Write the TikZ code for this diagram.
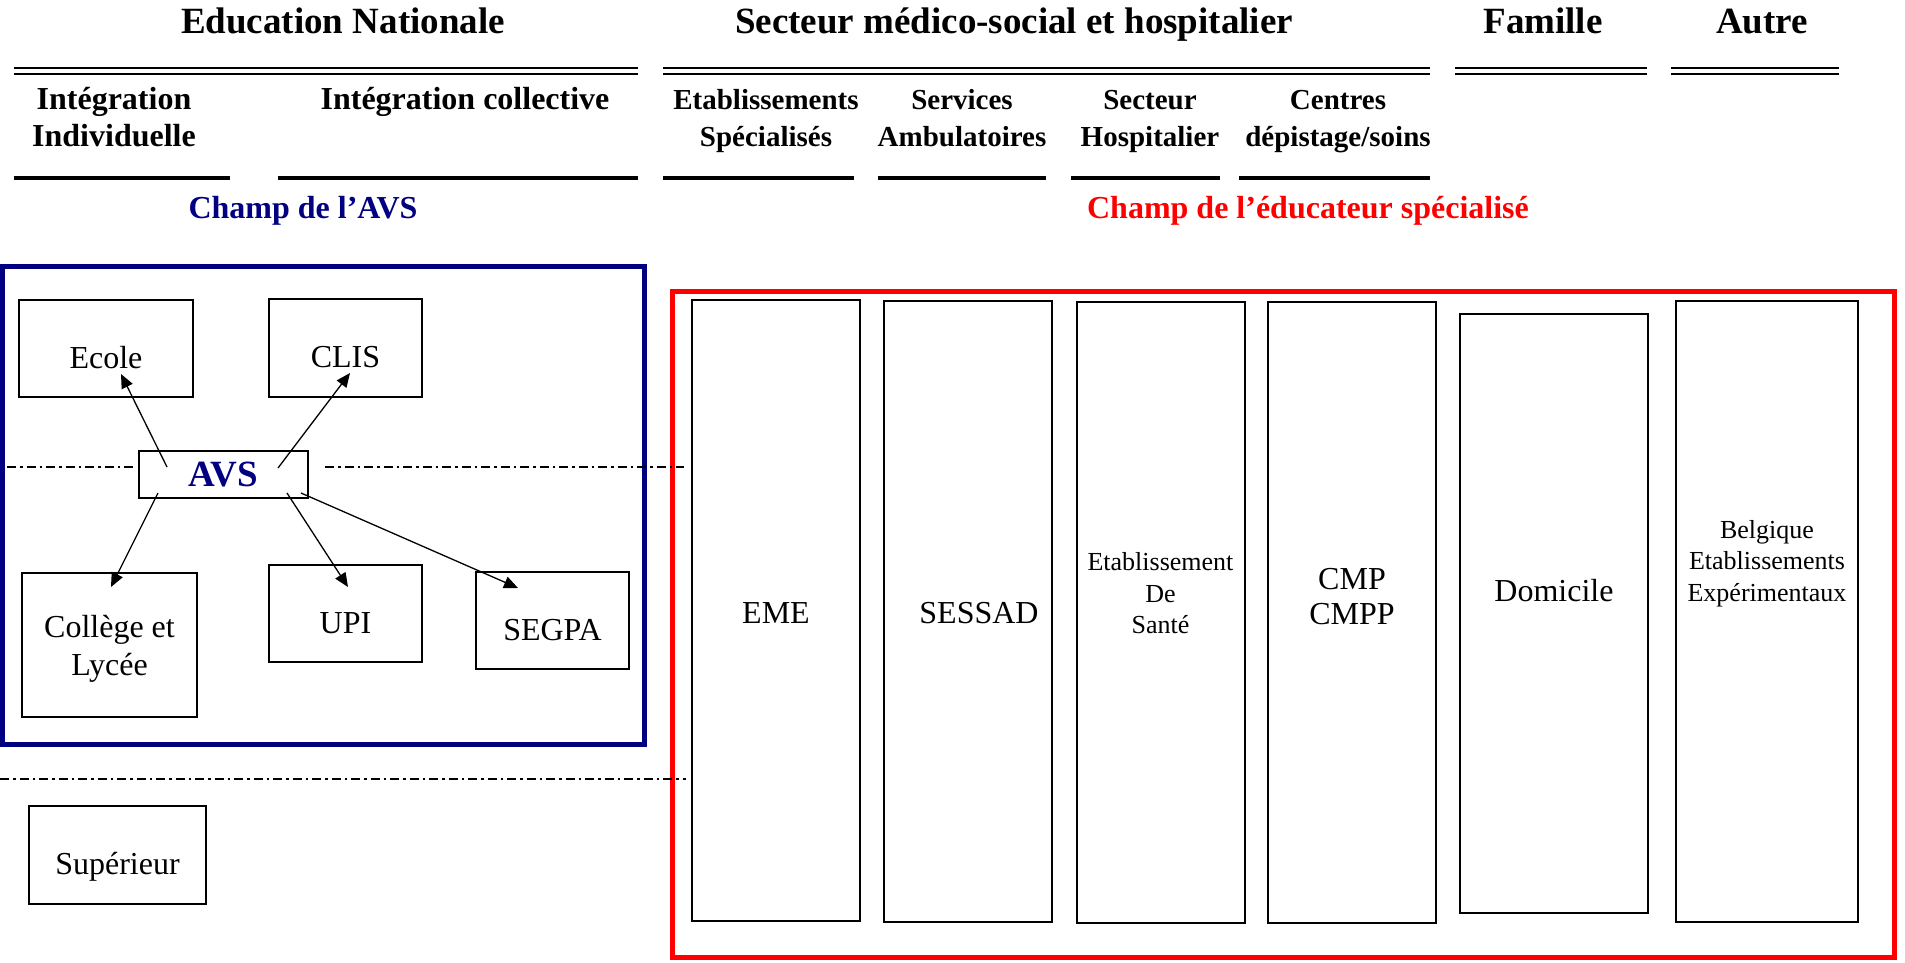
\documentclass[tikz,border=0pt]{standalone}
\usepackage{fontspec}
\setmainfont{Liberation Serif}
\usepackage{xcolor}
\definecolor{colAVS}{RGB}{0,0,128}
\definecolor{colEduc}{RGB}{255,0,0}
\usepackage{tikz}
\usetikzlibrary{arrows.meta}

\begin{document}
\begin{tikzpicture}[
        x=1pt, y=-1pt,
        every node/.style={inner sep=0pt},
        titletext/.style={font=\fontsize{37}{40}\selectfont\bfseries, anchor=base},
        subtext/.style={font=\fontsize{32}{37}\selectfont\bfseries, align=center, anchor=base},
        subtextnarrow/.style={subtext, font=\fontsize{29}{37}\selectfont\bfseries},
        champtext/.style={font=\fontsize{32}{37}\selectfont\bfseries, anchor=base},
        dblline/.style={line width=2.7pt, double, double distance=3.3pt},
        hrule/.style={line width=4pt},
        cellbox/.style={draw, line width=2pt, font=\fontsize{32}{38}\selectfont, align=center},
        onelinebox/.style={text height=39pt, text depth=0pt},
        colbox/.style={draw, line width=2pt, minimum width=168pt, minimum height=621pt},
        coltext/.style={font=\fontsize{32}{35}\selectfont, align=center},
        smalltext/.style={font=\fontsize{26}{31.5}\selectfont, align=center},
        avsarrow/.style={line width=1.3pt, -{Triangle[length=14pt,width=12pt]}},
        dashdot/.style={line width=1.4pt, dash pattern=on 9pt off 4pt on 2.5pt off 4pt}
    ]
    \useasboundingbox (0,0) rectangle (1905,962);

    % column titles
    \node[titletext] (edNat) at (343,33) {Education Nationale};
    \node[titletext] (secteur) at (1014,33) {Secteur médico-social et hospitalier};
    \node[titletext] (famille) at (1543,33) {Famille};
    \node[titletext] (autre) at (1762,33) {Autre};
    \draw[dblline] (14,71) -- (638,71);
    \draw[dblline] (663,71) -- (1430,71);
    \draw[dblline] (1455,71) -- (1647,71);
    \draw[dblline] (1671,71) -- (1839,71);

    % sub-headings (two-line ones sit on their last line)
    \node[subtext] (integInd) at (114,146) {Intégration\\Individuelle};
    \node[subtext] (integCol) at (465,109) {Intégration collective};
    \node[subtextnarrow] (etabSpec) at (766,146) {Etablissements\\Spécialisés};
    \node[subtextnarrow] (servAmb) at (962,146) {Services\\Ambulatoires};
    \node[subtextnarrow] (sectHosp) at (1150,146) {Secteur\\Hospitalier};
    \node[subtextnarrow] (centres) at (1338,146) {Centres\\dépistage/soins};
    \draw[hrule] (14,178) -- (230,178);
    \draw[hrule] (278,178) -- (638,178);
    \draw[hrule] (663,178) -- (854,178);
    \draw[hrule] (878,178) -- (1046,178);
    \draw[hrule] (1071,178) -- (1220,178);
    \draw[hrule] (1239,178) -- (1430,178);

    \node[champtext, text=colAVS] (champAVS) at (303,218) {Champ de l’AVS};
    \node[champtext, text=colEduc] (champEduc) at (1308,218) {Champ de l’éducateur spécialisé};

    % fields
    \draw[colAVS, line width=5pt] (2.5,266.5) rectangle (644.5,744.5);
    \draw[colEduc, line width=5pt] (672.5,291.5) rectangle (1894.5,957.5);
    \draw[dashdot] (7,467) -- (134,467);
    \draw[dashdot] (325,467) -- (684,467);
    \draw[dashdot] (0,779) -- (686,779);

    % Education Nationale
    \node[draw, line width=2pt, minimum width=169pt, minimum height=47pt,
          font=\fontsize{37}{40}\selectfont\bfseries, text=colAVS]
         (avs) at (223.5,474.5) {AVS};
    \node[cellbox, onelinebox, minimum width=174pt, minimum height=97pt] (ecole) at (106,348.5) {Ecole};
    \node[cellbox, onelinebox, minimum width=153pt, minimum height=98pt] (clis) at (345.5,348) {CLIS};
    \node[cellbox, text depth=0pt, minimum width=175pt, minimum height=144pt] (college) at (109.5,645) {Collège et\\Lycée};
    \node[cellbox, onelinebox, minimum width=153pt, minimum height=97pt] (upi) at (345.5,613.5) {UPI};
    \node[cellbox, onelinebox, minimum width=153pt, minimum height=97pt] (segpa) at (552.5,620.5) {SEGPA};
    \node[cellbox, onelinebox, minimum width=177pt, minimum height=98pt] (superieur) at (117.5,855) {Supérieur};

    \draw[avsarrow] ([xshift=29pt,yshift=-17pt]avs.north west) -- ([xshift=15pt,yshift=24pt]ecole.south);
    \draw[avsarrow] ([xshift=-31pt,yshift=-18pt]avs.north east) -- ([xshift=4.5pt,yshift=25pt]clis.south);
    \draw[avsarrow] ([xshift=20pt,yshift=6pt]avs.south west) -- ([xshift=1.5pt,yshift=-15pt]college.north);
    \draw[avsarrow] ([xshift=-22pt,yshift=6pt]avs.south east) -- ([xshift=2.5pt,yshift=-23pt]upi.north);
    \draw[avsarrow] ([xshift=-8pt,yshift=6pt]avs.south east) -- ([xshift=-34.5pt,yshift=-17pt]segpa.north);

    % secteur medico-social, famille, autre
    \node[colbox] (eme) at (776,610.5) {};
    \node[colbox] (sessad) at (968,611.5) {};
    \node[colbox] (etabSante) at (1160.5,612.5) {};
    \node[colbox] (cmp) at (1352,612.5) {};
    \node[colbox, minimum width=188pt, minimum height=599pt] (domicile) at (1554,613.5) {};
    \node[colbox, minimum width=182pt] (belgique) at (1767,611.5) {};
    \node[coltext] (emeTxt) at ([yshift=-3pt]eme) {EME};
    \node[coltext] (sessadTxt) at ([xshift=11pt,yshift=-2pt]sessad) {SESSAD};
    \node[smalltext] (etabTxt) at ([yshift=19pt]etabSante) {Etablissement\\De\\Santé};
    \node[coltext] (cmpTxt) at ([yshift=15.5pt]cmp) {CMP\\CMPP};
    \node[coltext] (domTxt) at ([yshift=23pt]domicile) {Domicile};
    \node[smalltext] (belgTxt) at ([yshift=48pt]belgique) {Belgique\\Etablissements\\Expérimentaux};
\end{tikzpicture}
\end{document}
